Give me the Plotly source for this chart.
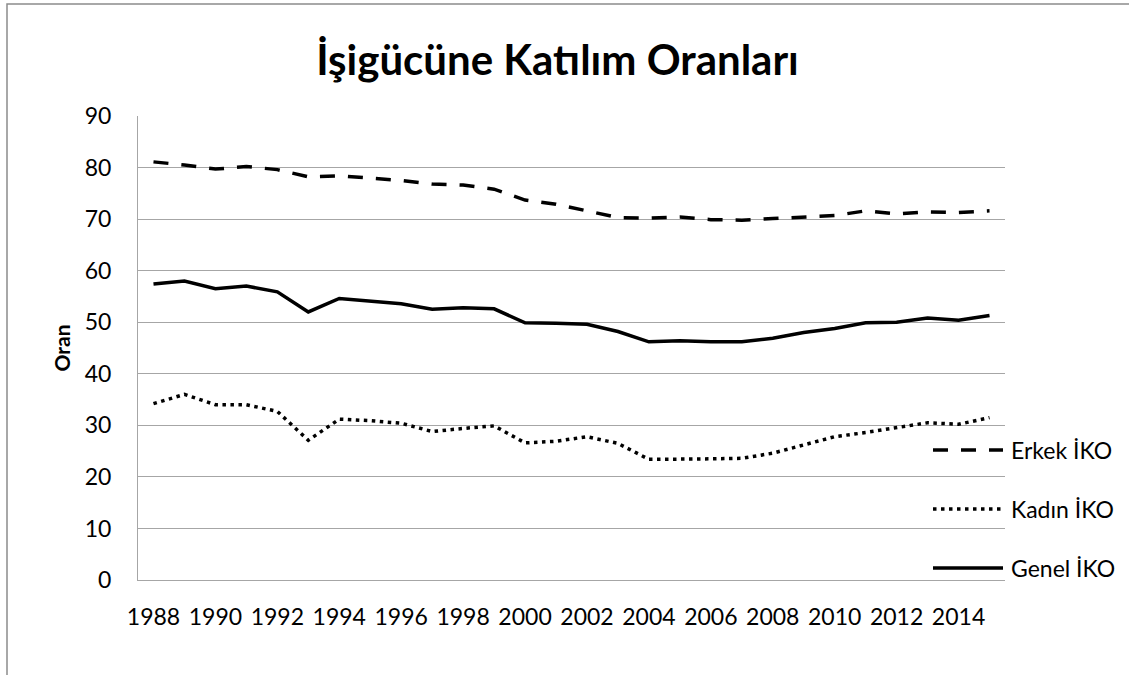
import plotly.graph_objects as go

years = list(range(1988, 2016))
erkek = [81.1, 80.5, 79.7, 80.2, 79.6, 78.2, 78.4, 78.0, 77.5, 76.8, 76.6, 75.8, 73.7, 72.9,
         71.6, 70.3, 70.2, 70.4, 69.9, 69.8, 70.1, 70.4, 70.7, 71.6, 71.0, 71.4, 71.3, 71.6]
kadin = [34.2, 36.0, 34.0, 34.0, 32.7, 27.1, 31.2, 30.9, 30.4, 28.8, 29.4, 29.9, 26.6, 26.9,
         27.8, 26.5, 23.4, 23.4, 23.5, 23.6, 24.6, 26.2, 27.8, 28.6, 29.6, 30.5, 30.2, 31.5]
genel = [57.4, 58.0, 56.5, 57.0, 55.9, 52.0, 54.6, 54.1, 53.6, 52.5, 52.8, 52.6, 49.9, 49.8,
         49.6, 48.2, 46.2, 46.4, 46.2, 46.2, 46.9, 48.0, 48.8, 49.9, 50.0, 50.8, 50.4, 51.3]
series_names = ["Erkek İKO", "Kadın İKO", "Genel İKO"]
tick_years = list(range(1988, 2015, 2))
y_ticks = list(range(0, 100, 10))

FONT = "Lato"
GRID = "#a6a6a6"

L, R, T, B = 138, 124, 116, 95
W = 1129 - L - R
H = 675 - T - B

def px_x(p):
    return (p - L) / W

def px_y(p):
    return (675 - B - p) / H

styles = [
    dict(color="black", width=3.5, dash="15px,13px"),
    dict(color="black", width=3.5, dash="3.5px,4.5px"),
    dict(color="black", width=3.5),
]

fig = go.Figure()
for name, vals, st in zip(series_names, [erkek, kadin, genel], styles):
    fig.add_trace(go.Scatter(x=years, y=vals, mode="lines", name=name,
                             line=st, showlegend=False))

# manual legend (long line samples as in the reference)
legend_y = [450, 509, 568]
shapes = []
annotations = []
for name, st, ly in zip(series_names, styles, legend_y):
    shapes.append(dict(type="line", xref="paper", yref="paper",
                       x0=px_x(933), x1=px_x(1003), y0=px_y(ly), y1=px_y(ly),
                       line=st))
    annotations.append(dict(text=name, xref="paper", yref="paper",
                            x=px_x(1009), y=px_y(ly), xanchor="left", yanchor="middle",
                            showarrow=False, font=dict(family=FONT, size=23, color="black")))

# outer frame of the chart
shapes.append(dict(type="rect", xref="paper", yref="paper",
                   x0=px_x(7), x1=px_x(1160), y0=px_y(700), y1=px_y(4),
                   line=dict(color="#8c8c8c", width=1.5), fillcolor="rgba(0,0,0,0)", layer="below"))

fig.update_layout(
    width=1129, height=675,
    margin=dict(l=L, r=R, t=T, b=B),
    paper_bgcolor="white", plot_bgcolor="white",
    title=dict(text="<b>İşigücüne Katılım Oranları</b>", x=px_x(557.5), xanchor="center",
               xref="paper", y=1 - 60 / 675, yanchor="middle", yref="container",
               font=dict(family=FONT, size=42, color="black")),
    font=dict(family=FONT, size=23, color="black"),
    shapes=shapes,
    annotations=annotations,
)
fig.update_xaxes(range=[1987.5, 2015.5], tickmode="array", tickvals=tick_years,
                 ticktext=[str(y) for y in tick_years], showgrid=False, zeroline=False,
                 showline=True, linecolor=GRID, linewidth=1, ticks="",
                 ticklabelstandoff=16, tickfont=dict(family=FONT, size=23))
fig.update_yaxes(range=[0, 90], tickmode="array", tickvals=y_ticks, showgrid=True,
                 gridcolor=GRID, gridwidth=1, zeroline=False, showline=True,
                 linecolor=GRID, linewidth=1, ticks="", ticklabelstandoff=21,
                 tickfont=dict(family=FONT, size=23),
                 title=dict(text="<b>Oran</b>", font=dict(family=FONT, size=21), standoff=8))

fig.write_html("out.html", config={"displayModeBar": False},
               post_script="document.body.style.margin='0px';document.body.style.overflow='hidden';")
